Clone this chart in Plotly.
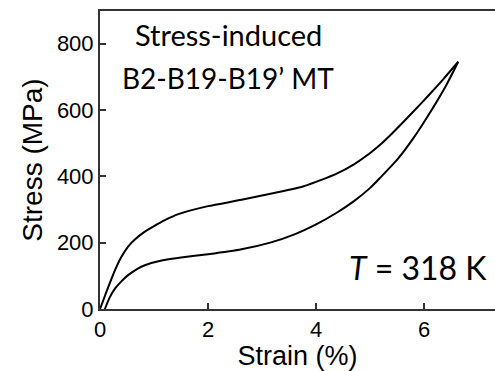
import plotly.graph_objects as go

# Loading branch (strain %, stress MPa)
load_strain = [0, 0.15, 0.28, 0.4, 0.52, 0.65, 0.83, 1.0, 1.2, 1.45, 2.0, 2.62, 3.2, 3.77, 4.38,
               4.7, 5.0, 5.2, 5.4, 5.8, 6.1, 6.35, 6.63]
load_stress = [0, 65, 118, 158, 188, 210, 233, 250, 268, 286, 310, 329, 349, 370, 408,
               436, 470, 497, 528, 595, 647, 692, 745]

# Unloading branch
unload_strain = [6.63, 6.4, 6.1, 5.8, 5.5, 5.2, 5.0, 4.7, 4.38, 4.0, 3.6, 3.15, 2.62, 2.0, 1.5,
                 1.14, 0.83, 0.7, 0.52, 0.4, 0.28, 0.18, 0.09]
unload_stress = [745, 672, 590, 515, 450, 398, 365, 325, 290, 255, 225, 200, 180, 165, 155,
                 146, 132, 122, 102, 84, 62, 35, 0]

x_ticks = [0, 2, 4, 6]
y_ticks = [0, 200, 400, 600, 800]

fig = go.Figure()
fig.add_trace(go.Scatter(x=load_strain, y=load_stress, mode="lines",
                         line=dict(color="black", width=2, shape="spline", smoothing=0.6),
                         showlegend=False))
fig.add_trace(go.Scatter(x=unload_strain, y=unload_stress, mode="lines",
                         line=dict(color="black", width=2, shape="spline", smoothing=0.6),
                         showlegend=False))

axis_font = dict(family="Liberation Sans, Arial, sans-serif", size=22, color="black")
title_font = dict(family="Liberation Sans, Arial, sans-serif", size=27, color="black")
label_font = "Lato, Open Sans, sans-serif"

fig.update_layout(
    width=495, height=371,
    margin=dict(l=100, r=0, t=11, b=62),
    paper_bgcolor="white", plot_bgcolor="white",
    xaxis=dict(range=[0, 7.31], tickvals=x_ticks, ticks="inside", ticklen=6, tickcolor="#333",
               tickwidth=1.5, showline=True, linecolor="#333", linewidth=2, mirror=True,
               showgrid=False, zeroline=False, tickfont=axis_font,
               title=dict(text="Strain (%)", font=title_font, standoff=6)),
    yaxis=dict(range=[0, 898], tickvals=y_ticks, ticks="inside", ticklen=6, tickcolor="#333",
               tickwidth=1.5, showline=True, linecolor="#333", linewidth=2, mirror=False,
               showgrid=False, zeroline=False, tickfont=axis_font,
               title=dict(text="Stress (MPa)", font=dict(family="Liberation Sans, Arial, sans-serif",
                                                          size=28, color="black"), standoff=6)),
    annotations=[
        dict(x=2.37, y=828, xref="x", yref="y", text="Stress-induced", showarrow=False,
             font=dict(family=label_font, size=29, color="black"), xanchor="center", yanchor="middle"),
        dict(x=2.37, y=695, xref="x", yref="y", text="B2-B19-B19\u2019 MT", showarrow=False,
             font=dict(family=label_font, size=28, color="black"), xanchor="center", yanchor="middle"),
        dict(x=7.2, y=125, xref="x", yref="y", text="<i>T</i> = 318 K", showarrow=False,
             font=dict(family=label_font, size=32, color="black"), xanchor="right", yanchor="middle"),
    ],
)

fig.write_html("out.html")
